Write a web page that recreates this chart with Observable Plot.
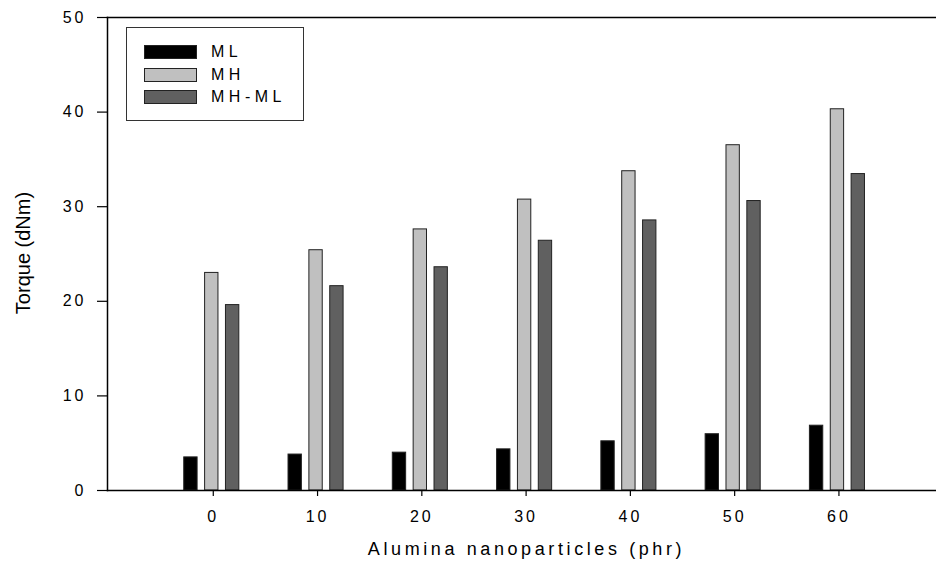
<!DOCTYPE html>
<html>
<head>
<meta charset="utf-8">
<script src="https://cdn.jsdelivr.net/npm/d3@7"></script>
<script src="https://cdn.jsdelivr.net/npm/@observablehq/plot@0.6"></script>
<style>
  html, body { margin: 0; padding: 0; background: #fff; }
  #wrap { position: relative; width: 936px; height: 564px; font-family: "Liberation Sans", Arial, sans-serif; }
  #legend { position: absolute; left: 126px; top: 27px; width: 176px; height: 92px; border: 1px solid #333; background: #fff; }
  .row { position: absolute; left: 17px; height: 14px; display: flex; align-items: center; }
  .sw { width: 51px; height: 12px; border: 1px solid #222; }
  .lab { margin-left: 14px; font-size: 16px; letter-spacing: 4.5px; color: #000; line-height: 14px; }
</style>
</head>
<body>
<div id="wrap"></div>
<script>
const phr = [0, 10, 20, 30, 40, 50, 60];
const ML = [3.5, 3.8, 4.0, 4.35, 5.2, 5.95, 6.85];
const MH = [23.0, 25.4, 27.6, 30.75, 33.75, 36.5, 40.3];
const MHML = [19.6, 21.6, 23.6, 26.4, 28.55, 30.6, 33.45];
const seriesNames = ["ML", "MH", "MH-ML"];
const seriesColors = ["#000000", "#c0c0c0", "#606060"];
const xTicks = [0, 10, 20, 30, 40, 50, 60];
const yTicks = [0, 10, 20, 30, 40, 50];

const seriesValues = [ML, MH, MHML];
const offsets = [-2, 0, 2];
const halfW = 0.64;
const data = [];
seriesNames.forEach((s, si) => {
  phr.forEach((p, i) => data.push({series: s, phr: p, off: offsets[si], value: seriesValues[si][i]}));
});

const chart = Plot.plot({
  width: 936,
  height: 564,
  marginLeft: 107,
  marginRight: 0,
  marginTop: 17,
  marginBottom: 74,
  style: {fontFamily: "Liberation Sans, Arial, sans-serif", background: "#fff", color: "#000"},
  x: {type: "linear", domain: [-10, 69.5]},
  y: {domain: [0, 50]},
  color: {domain: seriesNames, range: seriesColors},
  marks: [
    Plot.rectY(data, {
      x1: d => d.phr + d.off - halfW,
      x2: d => d.phr + d.off + halfW,
      y: "value",
      fill: "series",
      stroke: "#222",
      strokeWidth: 1
    }),
    Plot.frame({anchor: "top", stroke: "#000", strokeWidth: 1.5}),
    Plot.frame({anchor: "left", stroke: "#000", strokeWidth: 1.5}),
    Plot.frame({anchor: "bottom", stroke: "#000", strokeWidth: 1.5}),
    Plot.axisY({
      ticks: yTicks, tickSize: 10, tickPadding: 11, tickFormat: d => String(d),
      fontSize: 16, label: null, strokeWidth: 1.2
    }),
    Plot.axisX({
      ticks: xTicks, tickSize: 6, tickPadding: 14, tickFormat: d => String(d),
      fontSize: 16, label: null, strokeWidth: 1.2, dx: 1.5
    }),
    Plot.text(["Alumina nanoparticles (phr)"], {
      frameAnchor: "bottom", dy: 64, dx: 4.5, fontSize: 18, text: d => d
    }),
    Plot.text(["Torque (dNm)"], {
      frameAnchor: "left", textAnchor: "middle", dx: -84, dy: -1, rotate: -90, fontSize: 20, text: d => d
    })
  ]
});

d3.select(chart).selectAll("g[aria-label='y-axis tick label'] text, g[aria-label='x-axis tick label'] text").style("letter-spacing", "3px");
d3.select(chart).selectAll("g[aria-label='text']").filter((d, i) => i === 0).style("letter-spacing", "3.6px");

const wrap = document.getElementById("wrap");
wrap.appendChild(chart);

const legend = document.createElement("div");
legend.id = "legend";
const tops = [17, 40, 62];
seriesNames.forEach((s, i) => {
  const row = document.createElement("div");
  row.className = "row";
  row.style.top = tops[i] + "px";
  const sw = document.createElement("div");
  sw.className = "sw";
  sw.style.background = seriesColors[i];
  const lab = document.createElement("span");
  lab.className = "lab";
  lab.textContent = s;
  row.appendChild(sw);
  row.appendChild(lab);
  legend.appendChild(row);
});
wrap.appendChild(legend);
</script>
</body>
</html>
